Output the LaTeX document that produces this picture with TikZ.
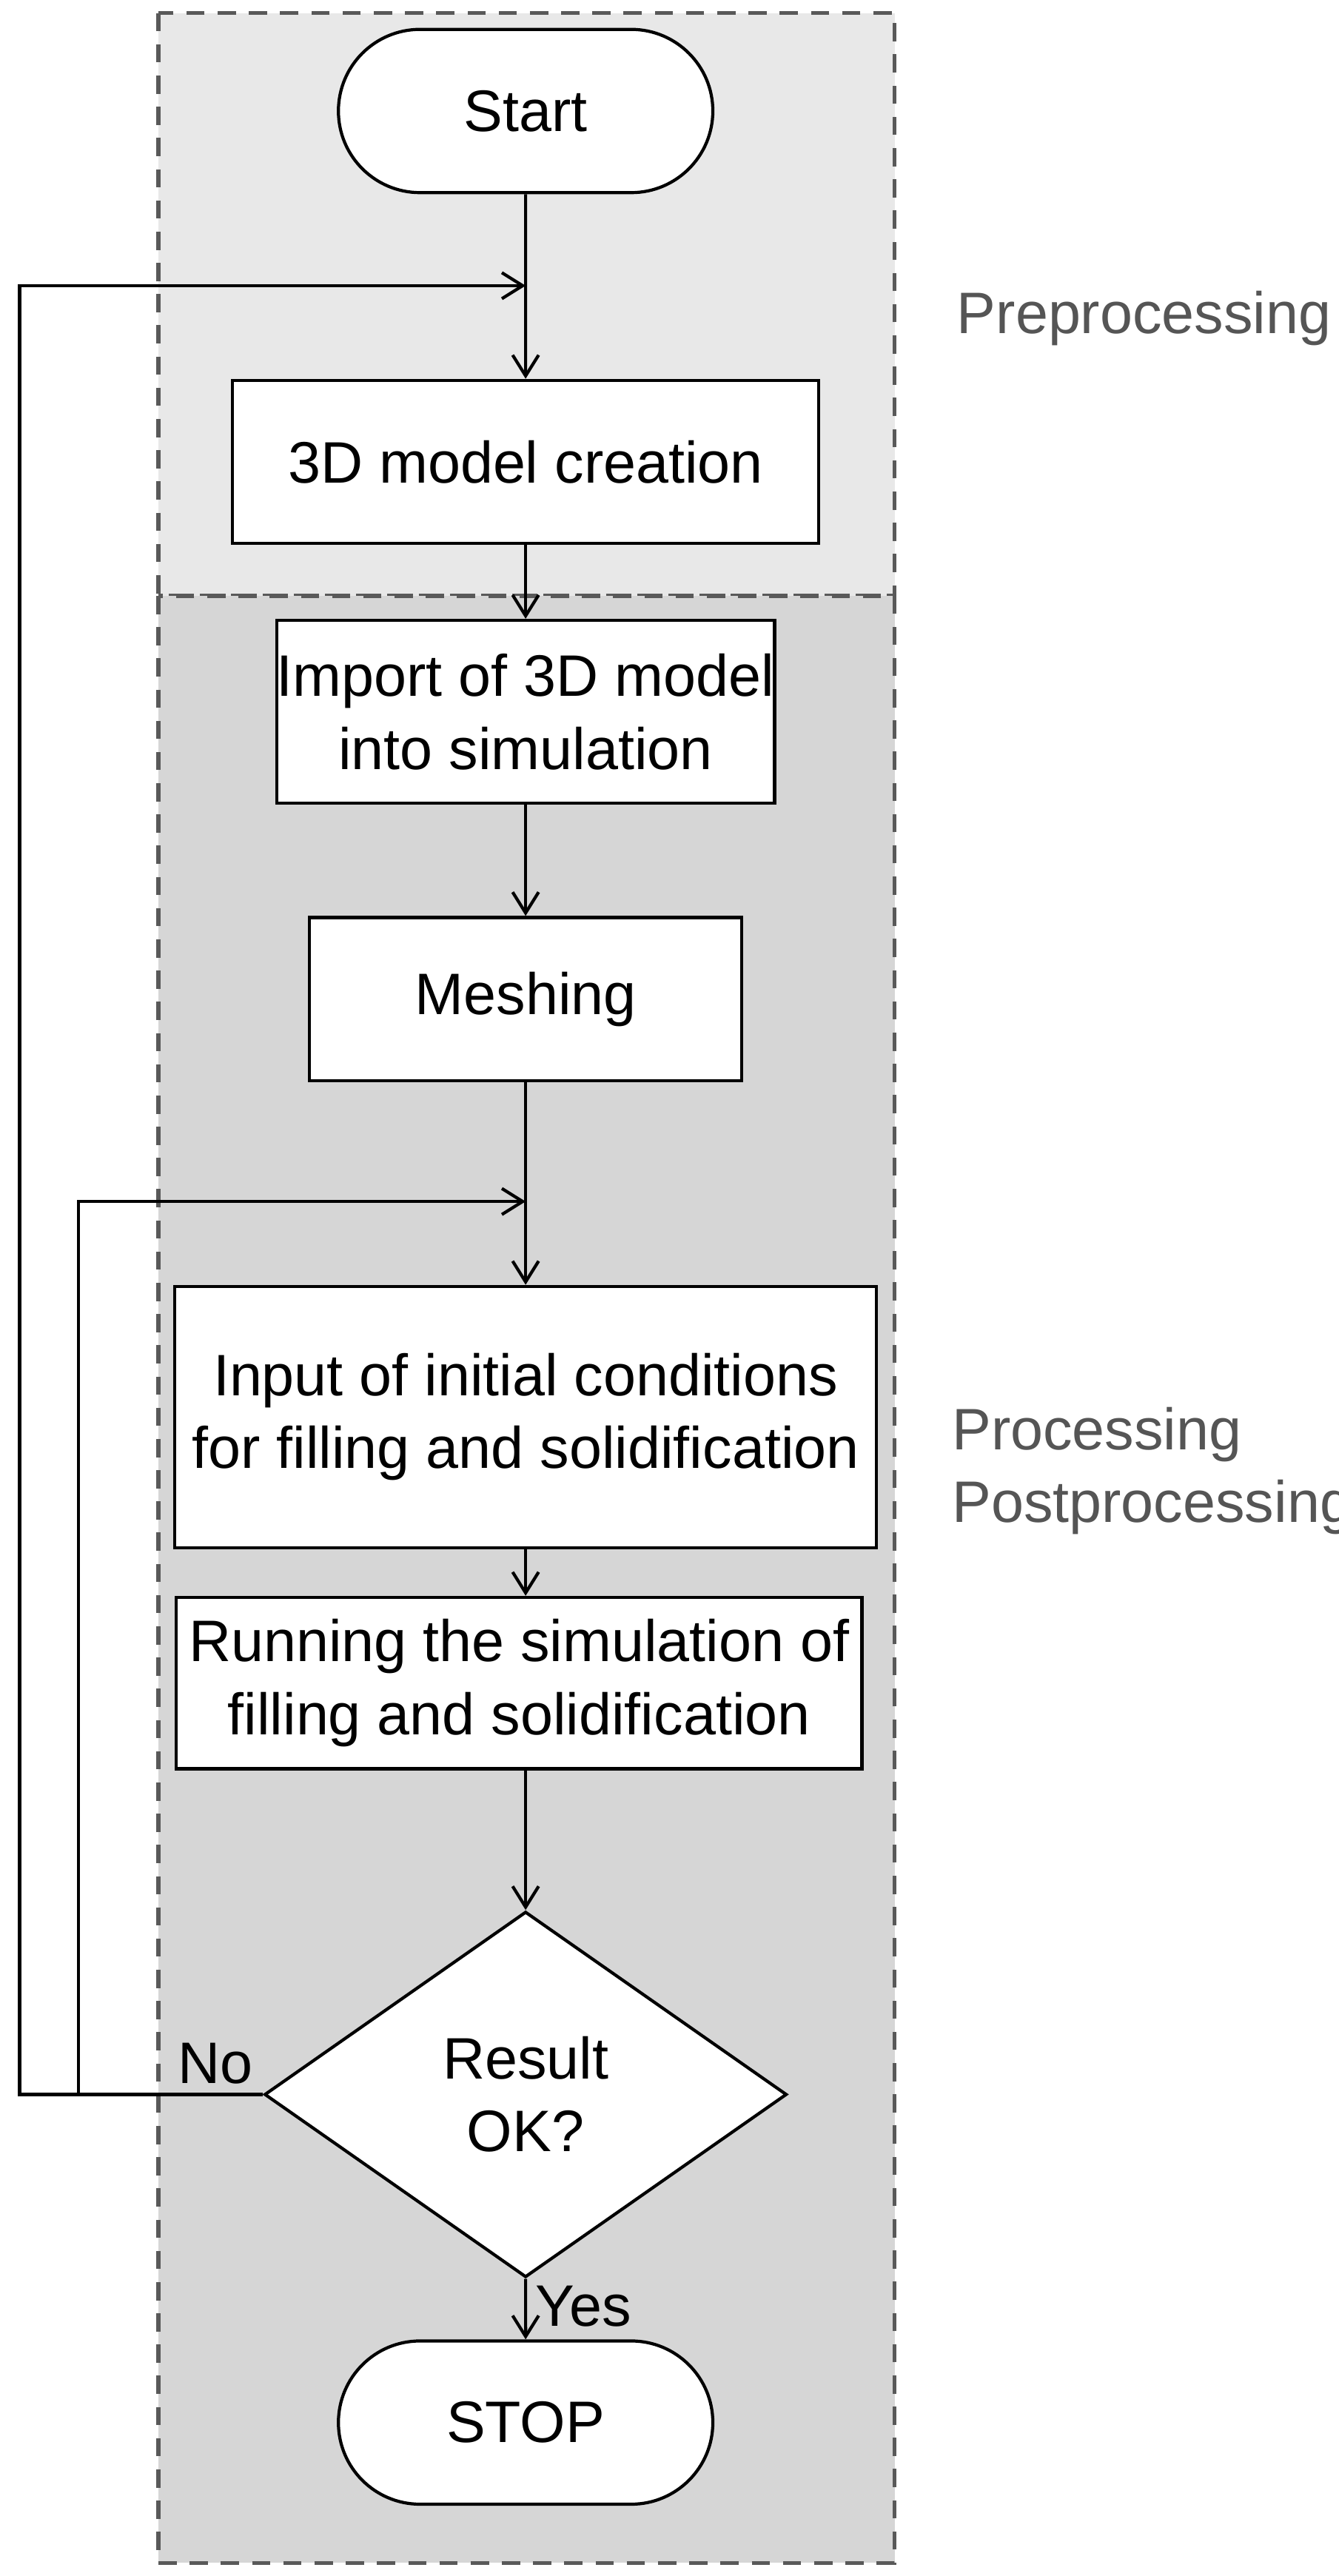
\documentclass[tikz,border=0pt]{standalone}
\usepackage{fontspec}
\setmainfont{Liberation Sans}
\usetikzlibrary{arrows.meta,positioning,shapes.geometric,shapes.misc}
\definecolor{preGray}{HTML}{E8E8E8}
\definecolor{procGray}{HTML}{D6D6D6}
\definecolor{labelGray}{HTML}{555555}

\begin{document}
\begin{tikzpicture}[x=0.02205cm,y=-0.02205cm,
  font=\fontsize{22.5}{28}\selectfont,line width=1.2pt,
  box/.style={draw,fill=white,align=center,inner sep=0pt},
  term/.style={draw,fill=white,rounded rectangle,minimum width=240*0.02205cm,minimum height=100*0.02205cm},
  arr/.style={-{Straight Barb[length=8pt,width=10pt]}},
  region/.style={draw=gray!70!black,line width=1.5pt,dash pattern=on 7pt off 5pt},
  side/.style={text=labelGray,align=left,anchor=west}]
\useasboundingbox (0,0) rectangle (820,1578);
% regions
\draw[region,fill=preGray] (97,8) rectangle (548,365);
\draw[region,fill=procGray] (97,365) rectangle (548,1570);
\node[side] (pre) at (580,195) {Preprocessing};
\node[side] (proc) at (577,901) {Processing\\Postprocessing};
% nodes
\node[term] (start) at (322,68) {Start};
\node[box,minimum width=359*0.02205cm,minimum height=100*0.02205cm] (model) at (322,283) {3D model creation};
\node[box,minimum width=305*0.02205cm,minimum height=112*0.02205cm] (import) at (322,436) {Import of 3D model\\into simulation};
\node[box,minimum width=265*0.02205cm,minimum height=100*0.02205cm] (mesh) at (322,612) {Meshing};
\node[box,minimum width=430*0.02205cm,minimum height=160*0.02205cm] (input) at (322,868) {Input of initial conditions\\for filling and solidification};
\node[box,minimum width=420*0.02205cm,minimum height=105*0.02205cm] (run) at (318,1031) {Running the simulation of\\filling and solidification};
\node[box,diamond,aspect=1.45,minimum width=320*0.02205cm,minimum height=224*0.02205cm] (ok) at (322,1283) {Result\\OK?};
\node[term] (stop) at (322,1484) {STOP};
% loop coordinates
\coordinate (m1) at (322,175);
\coordinate (m2) at (322,736);
\coordinate (l1) at (12,175);
\coordinate (l2) at (48,736);
% connectors
\draw[arr] (start) -- (model);
\draw[arr] (model) -- (import);
\draw[arr] (import) -- (mesh);
\draw[arr] (mesh) -- (input);
\draw[arr] (input) -- (input|-run.north);
\draw[arr] (run.south-|ok) -- (ok);
\draw[arr] (ok) -- node[right,pos=0.45] {Yes} (stop);
\draw[arr] (ok.west) -| (l1) -- (m1);
\draw[arr] (ok.west) -| (l2) -- (m2);
\node[above left=0pt and 0pt of ok.west] (no) {No};
\end{tikzpicture}
\end{document}
